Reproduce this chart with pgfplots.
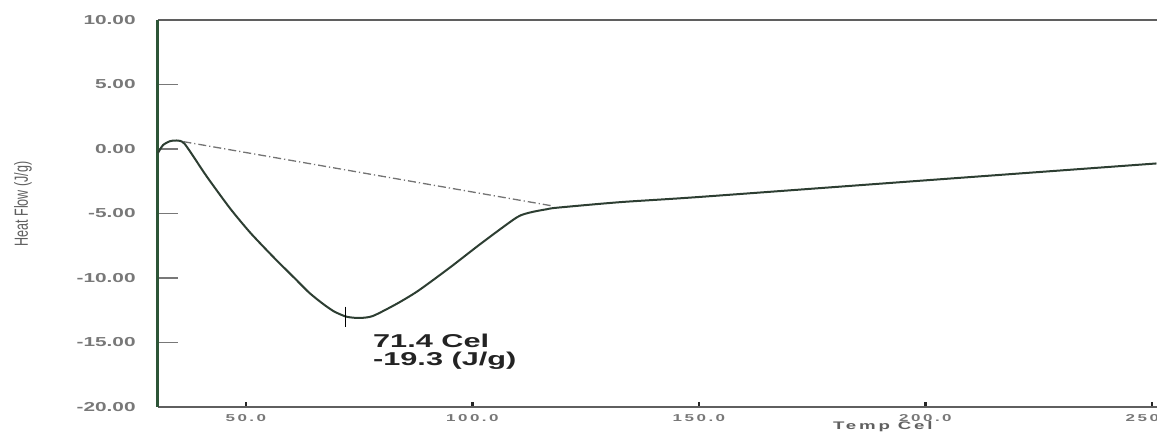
\documentclass[border=0pt]{standalone}
\usepackage{fontspec}
\setmainfont{Liberation Sans}
% the source picture is stretched sideways, so the fonts are too
\newfontfamily\annfont[FakeStretch=1.65]{Liberation Sans}
\newfontfamily\ytfont[FakeStretch=1.6]{Liberation Sans}
\newfontfamily\xtfont[FakeStretch=1.7,LetterSpace=25]{Liberation Sans}
\newfontfamily\ylabfont[FakeStretch=0.66]{Liberation Sans}
\usepackage{pgfplots}
\pgfplotsset{compat=1.18}
\definecolor{curvecol}{RGB}{45,62,50}
\definecolor{leftgreen}{RGB}{45,85,55}
\definecolor{framegray}{RGB}{95,95,95}
\definecolor{tickgray}{RGB}{120,120,120}
\definecolor{labgray}{RGB}{120,120,120}
\definecolor{basecol}{RGB}{115,115,115}
\definecolor{anncol}{RGB}{35,35,35}

\begin{document}
\begin{tikzpicture}
\begin{axis}[
    scale only axis,
    width=501.5pt, height=193.5pt,
    xmin=30.6, xmax=252,
    ymin=-20, ymax=10,
    clip=false,
    separate axis lines,
    x axis line style={draw=framegray, line width=0.9pt},
    y axis line style={draw=leftgreen, line width=1.5pt},
    tick align=inside, tick pos=left,
    xtick={50,100,150,200,250},
    xticklabels={50.0,100.0,150.0,200.0,250.0},
    ytick={-20,-15,-10,-5,0,5,10},
    yticklabels={-20.00,-15.00,-10.00,-5.00,0.00,5.00,10.00},
    major tick length=10pt,
    xtick style={/pgfplots/major tick length=2.5pt, draw=black!85, line width=1.2pt},
    ytick style={draw=tickgray, line width=0.9pt},
    xticklabel style={font=\xtfont\bfseries\fontsize{5}{6}\selectfont, text=labgray,
        anchor=center, inner sep=0pt, yshift=-5.65pt},
    yticklabel style={font=\ytfont\bfseries\fontsize{6.5}{7}\selectfont, text=labgray,
        anchor=east, inner sep=0pt, xshift=-11pt},
]
% baseline of the peak integration
\addplot[basecol, line width=0.65pt, dash pattern=on 4pt off 1.5pt on 0.6pt off 1.5pt]
    coordinates {(36.2,0.57) (117.8,-4.42)};

% DSC curve
\addplot[curvecol, line width=1pt, smooth, tension=0.4] coordinates {
    (30.6,-0.3) (31.7,0.3) (33.2,0.6) (34.7,0.66) (36.5,0.39)
    (41.3,-2.1) (46.5,-4.6) (51,-6.5) (56,-8.35) (61,-10.1)
    (64,-11.15) (67,-12.0) (69.5,-12.6) (72.2,-13.0) (75,-13.1)
    (78,-12.95) (83.3,-12.0) (88,-11.0) (95,-9.2) (102,-7.3)
    (109.8,-5.3) (113,-4.9) (116.4,-4.67) (118.7,-4.55)
    (132.6,-4.12) (150,-3.72) (200,-2.43) (251,-1.12)
};

% peak marker
\addplot[only marks, black, mark=|, mark size=5pt, mark options={line width=0.7pt}]
    coordinates {(72.0,-13.0)};

\node[anchor=base west, inner sep=0pt, text=anncol,
      font=\annfont\bfseries\fontsize{9.3}{11}\selectfont] at (axis cs:78,-15.4) {71.4 Cel};
\node[anchor=base west, inner sep=0pt, text=anncol,
      font=\annfont\bfseries\fontsize{9.3}{11}\selectfont] at (axis cs:78,-16.75) {-19.3 (J/g)};

\node[anchor=base, inner sep=0pt, text=framegray,
      font=\xtfont\bfseries\fontsize{5.5}{6}\selectfont] at ([yshift=-11.5pt]axis cs:190.6,-20) {Temp Cel};
\node[rotate=90, anchor=center, inner sep=0pt, text=framegray,
      font=\ylabfont\fontsize{9.5}{10}\selectfont] at ([xshift=-67.5pt]axis cs:30.6,-4.26) {Heat Flow (J/g)};

\coordinate (bl) at (rel axis cs:0,0);
\coordinate (tl) at (rel axis cs:0,1);
\end{axis}
\pgfresetboundingbox
\path ([xshift=-79pt,yshift=-13.5pt]bl) rectangle ([xshift=499.5pt,yshift=10pt]tl);
\end{tikzpicture}
\end{document}
